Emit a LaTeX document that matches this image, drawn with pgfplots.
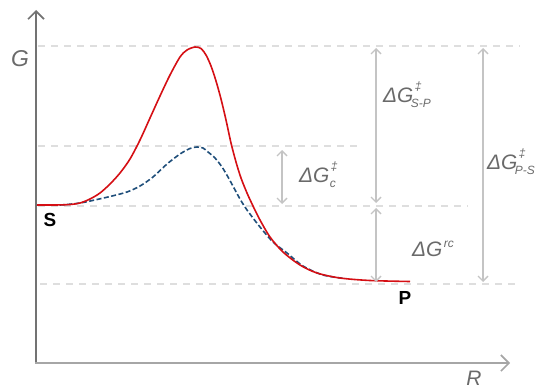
\documentclass[border=0pt]{standalone}
\usepackage{fontspec}
\setmainfont{Liberation Sans}
\usepackage{pgfplots}
\pgfplotsset{compat=1.18}
\usetikzlibrary{arrows.meta}
\definecolor{redc}{HTML}{D50F14}
\definecolor{bluec}{HTML}{1F4E7A}
\definecolor{lbl}{HTML}{6A6A6A}
\definecolor{arr}{HTML}{C4C4C4}
\definecolor{dsh}{HTML}{DEDEDE}
\begin{document}
\begin{tikzpicture}
\begin{axis}[scale only axis, width=542bp, height=391bp,
  xmin=0, xmax=542, ymin=0, ymax=391, y dir=reverse,
  hide axis, clip=false]
\coordinate (bl) at (axis cs:0,391);
\coordinate (tr) at (axis cs:542,0);
% dashed guide lines
\draw[dsh, line width=1.6bp, dash pattern=on 7bp off 6bp] (axis cs:38,46) -- (axis cs:520,46);
\draw[dsh, line width=1.6bp, dash pattern=on 7bp off 6bp] (axis cs:38,146) -- (axis cs:360,146);
\draw[dsh, line width=1.6bp, dash pattern=on 7bp off 6bp] (axis cs:38,206) -- (axis cs:468,206);
\draw[dsh, line width=1.6bp, dash pattern=on 7bp off 6bp] (axis cs:40,284) -- (axis cs:520,284);
% axes
\draw[gray!90!black, line width=2bp, -{Straight Barb[length=8bp,width=16bp,line width=1.6bp]}] (axis cs:36,363) -- (axis cs:36,10);
\draw[gray!70, line width=2.2bp, -{Straight Barb[length=8bp,width=16bp,line width=1.6bp]}] (axis cs:35,363) -- (axis cs:510,363);
% curves
\addplot[bluec, line width=1.6bp, dash pattern=on 5bp off 2.5bp, smooth] coordinates {
(37,205) (60,205) (80,203) (97,199.5) (110,196.5) (127,192) (140,186) (153,177) (167,164) (180,154) (190,148.5) (197,147) (203,148) (208,152) (215,158) (222,167) (228,177) (234,188) (240,199) (247,210) (260,227) (273,242) (287,253) (303,266) (323,275) (345,278.5)};
\addplot[redc, line width=1.6bp, smooth] coordinates {
(37,205) (55,205) (70,204.5) (80,203) (90,199) (100,193) (110,184) (120,173) (130,159) (140,140) (150,118) (160,96) (170,75) (180,57) (187,50) (195,47) (201,48.5) (206,55) (211,66) (216,81) (221,99) (226,120) (231,143) (236,162) (241,178) (247,193) (253,206) (260,220) (270,237) (283,252) (300,265) (317,273) (340,278) (370,280.5) (410,281.5)};
% arrows
\tikzset{dbl/.style={arr, line width=1.6bp, {Straight Barb[length=5bp,width=10bp,line width=1.4bp]}-{Straight Barb[length=5bp,width=10bp,line width=1.4bp]}}}
\draw[dbl] (axis cs:376,48) -- (axis cs:376,203);
\draw[dbl] (axis cs:376,208) -- (axis cs:376,282);
\draw[dbl] (axis cs:483,48) -- (axis cs:483,282);
\draw[dbl] (axis cs:282,150) -- (axis cs:282,204);
% labels
\tikzset{big/.style={lbl, font=\fontsize{21}{21}\selectfont\itshape, inner sep=0},
         sm/.style={lbl, font=\fontsize{12}{12}\selectfont\itshape, inner sep=0}}
\node[lbl, font=\fontsize{23}{23}\selectfont\itshape, inner sep=0] at (axis cs:20,59) {G};
\node[lbl, font=\fontsize{21}{21}\selectfont\itshape, inner sep=0] at (axis cs:474,378) {R};
\node[black, font=\fontsize{19}{19}\selectfont\bfseries, inner sep=0] at (axis cs:50,220) {S};
\node[black, font=\fontsize{19}{19}\selectfont\bfseries, inner sep=0] at (axis cs:405,298) {P};
% Delta G S-P
\node[big, anchor=base west] (a1) at (axis cs:383,102) {ΔG};
\node[sm, anchor=base west, xshift=1bp, yshift=12bp] at (a1.base east) {‡};
\node[sm, anchor=base west, xshift=-3bp, yshift=-5bp] at (a1.base east) {S-P};
% Delta G c
\node[big, anchor=base west] (a2) at (axis cs:299,182) {ΔG};
\node[sm, anchor=base west, xshift=1bp, yshift=12bp] at (a2.base east) {‡};
\node[sm, anchor=base west, xshift=0bp, yshift=-5bp] at (a2.base east) {c};
% Delta G P-S
\node[big, anchor=base west] (a3) at (axis cs:487,169) {ΔG};
\node[sm, anchor=base west, xshift=1bp, yshift=12bp] at (a3.base east) {‡};
\node[sm, anchor=base west, xshift=-3bp, yshift=-5bp] at (a3.base east) {P-S};
% Delta G rc
\node[big, anchor=base west] (a4) at (axis cs:412,256) {ΔG};
\node[sm, anchor=base west, xshift=1bp, yshift=9bp] at (a4.base east) {rc};
\end{axis}
\pgfresetboundingbox
\path[use as bounding box] (bl) rectangle (tr);
\end{tikzpicture}
\end{document}
